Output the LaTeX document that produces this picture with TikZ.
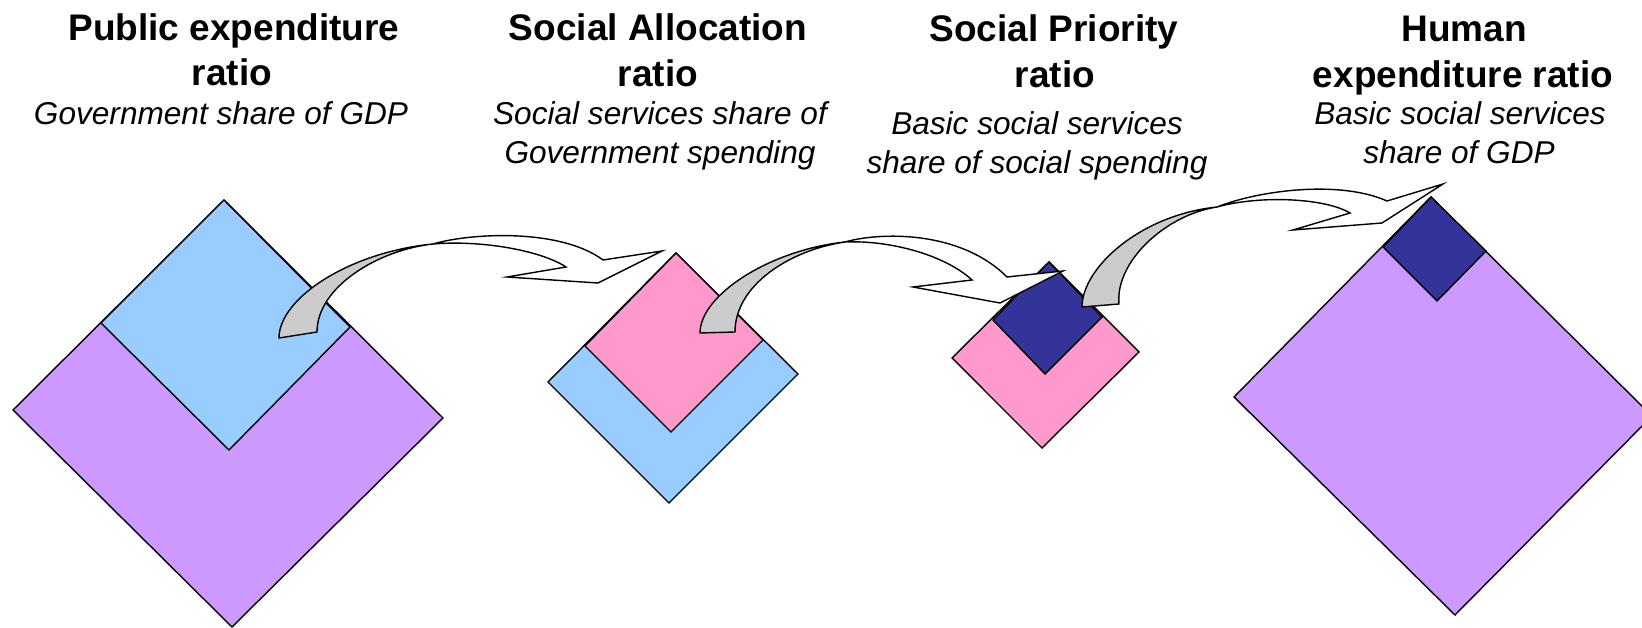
\documentclass[tikz,border=0pt]{standalone}
\usepackage{fontspec}
\setmainfont{Liberation Sans}
\definecolor{lilac}{HTML}{CC99FF}
\definecolor{skyb}{HTML}{99CCFF}
\definecolor{rose}{HTML}{FF99CC}
\definecolor{navy}{HTML}{333399}
\definecolor{shade}{HTML}{CCCCCC}
\tikzset{
  ttl/.style={font=\fontsize{37}{44}\selectfont\bfseries, anchor=base, inner sep=0pt},
  sbt/.style={font=\fontsize{31.6}{38}\selectfont\itshape, anchor=base, inner sep=0pt},
  sq/.style={draw=black, line width=1.4pt, line join=miter},
  arr/.style={draw=black, line width=1.4pt, line join=miter}
}
\begin{document}
\begin{tikzpicture}[x=1pt,y=-1pt]
\useasboundingbox (0,0) rectangle (1642,628);

% ---- squares ----
% 1
\path[sq, fill=lilac] (224,200) -- (13,410) -- (232,627) -- (443,418) -- cycle;
\path[sq, fill=skyb] (224,200) -- (101,323) -- (229,450) -- (350,327) -- cycle;
% 2
\path[sq, fill=skyb] (676,253) -- (548,382) -- (669,503) -- (798,374) -- cycle;
\path[sq, fill=rose] (676,253) -- (585,346) -- (671,432) -- (763,340) -- cycle;
% 3
\path[sq, fill=rose] (1049,262) -- (952,358) -- (1042,448) -- (1139,352) -- cycle;
\path[sq, fill=navy] (1049,262) -- (993,320) -- (1045,374) -- (1102,317) -- cycle;
% 4
\path[sq, fill=lilac] (1431,197) -- (1234,397) -- (1455,615) -- (1652,416) -- cycle;
\path[sq, fill=navy] (1431,197) -- (1383,247) -- (1437,301) -- (1486,251) -- cycle;

% ---- arrow 1 ----
\coordinate (a1) at (279,338);
\coordinate (b1) at (317,332);
\coordinate (k1) at (433,244);
\path[arr, fill=shade] (a1) .. controls (279,298) and (350,252) .. (k1)
  .. controls (378,250) and (317,287) .. (b1) -- cycle;
\path[arr, fill=white] (k1) .. controls (470,233) and (560,228) .. (603,260)
  -- (662,251) -- (598,283) -- (507,277) -- (566,267)
  .. controls (540,250) and (480,240) .. (k1) -- cycle;

% ---- arrow 2 ----
\coordinate (a2) at (700,333);
\coordinate (b2) at (735,332);
\coordinate (k2) at (845,242);
\path[arr, fill=shade] (a2) .. controls (700,295) and (770,250) .. (k2)
  .. controls (790,250) and (735,285) .. (b2) -- cycle;
\path[arr, fill=white] (k2) .. controls (880,232) and (960,230) .. (1007,277)
  -- (1063,271) -- (1000,303) -- (913,287) -- (972,280)
  .. controls (945,255) and (890,240) .. (k2) -- cycle;

% ---- arrow 3 ----
\coordinate (a3) at (1082,307);
\coordinate (b3) at (1119,304);
\coordinate (k3) at (1217,207);
\path[arr, fill=shade] (a3) .. controls (1082,268) and (1140,215) .. (k3)
  .. controls (1165,215) and (1115,262) .. (b3) -- cycle;
\path[arr, fill=white] (k3) .. controls (1260,190) and (1340,180) .. (1387,201)
  -- (1443,184) -- (1382,223) -- (1293,230) -- (1350,213)
  .. controls (1325,198) and (1260,195) .. (k3) -- cycle;

% ---- texts ----
\node[ttl] (t1a) at (234,41) {Public expenditure};
\node[ttl] (t1b) at (232,86) {ratio};
\node[sbt] (s1a) at (221,125) {Government share of GDP};

\node[ttl] (t2a) at (658,41) {Social Allocation};
\node[ttl] (t2b) at (658,87) {ratio};
\node[sbt] (s2a) at (660,125) {Social services share of};
\node[sbt] (s2b) at (660,164) {Government spending};

\node[ttl] (t3a) at (1054,42) {Social Priority};
\node[ttl] (t3b) at (1055,88) {ratio};
\node[sbt] (s3a) at (1037,135) {Basic social services};
\node[sbt] (s3b) at (1037,174) {share of social spending};

\node[ttl] (t4a) at (1464,42) {Human};
\node[ttl] (t4b) at (1463,88) {expenditure ratio};
\node[sbt] (s4a) at (1460,125) {Basic social services};
\node[sbt] (s4b) at (1459,164) {share of GDP};
\end{tikzpicture}
\end{document}
